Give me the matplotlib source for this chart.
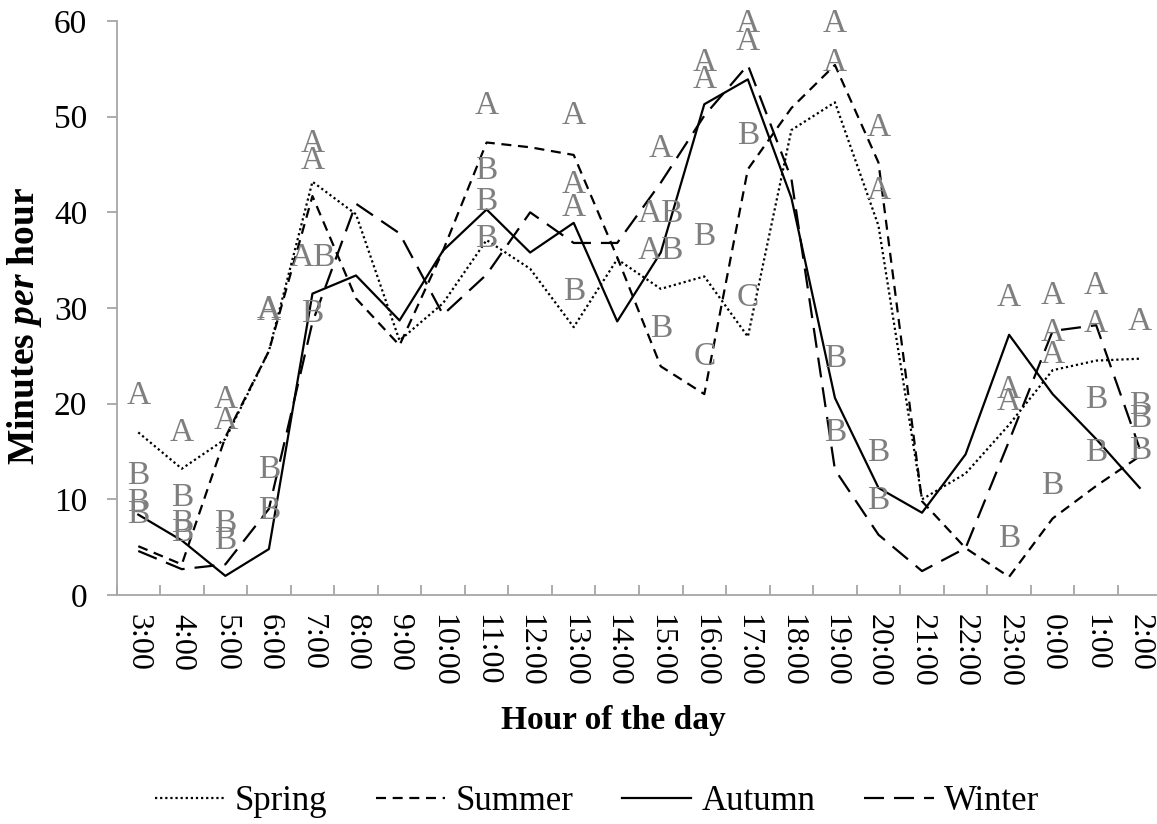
import numpy as np
import matplotlib
matplotlib.use("Agg")
import matplotlib.pyplot as plt

plt.rcParams['font.family'] = ['Liberation Serif', 'DejaVu Serif']
plt.rcParams['mathtext.fontset'] = 'custom'
plt.rcParams['mathtext.it'] = 'Liberation Serif:italic:bold'
plt.rcParams['mathtext.rm'] = 'Liberation Serif:bold'

hours = ["3:00", "4:00", "5:00", "6:00", "7:00", "8:00", "9:00", "10:00",
         "11:00", "12:00", "13:00", "14:00", "15:00", "16:00", "17:00", "18:00",
         "19:00", "20:00", "21:00", "22:00", "23:00", "0:00", "1:00", "2:00"]

spring = [17.0, 13.2, 16.3, 25.5, 43.2, 39.8, 26.6, 30.5, 37.1, 34.1, 28.0, 35.1,
          32.0, 33.3, 27.0, 48.6, 51.5, 38.6, 10.0, 12.7, 17.8, 23.5, 24.5, 24.7]
summer = [5.1, 3.2, 16.5, 25.5, 41.7, 31.0, 26.1, 36.0, 47.3, 46.8, 46.0, 35.3,
          23.9, 21.0, 44.5, 50.9, 55.4, 45.2, 9.8, 4.9, 1.9, 8.0, 11.4, 14.5]
autumn = [8.4, 5.7, 2.0, 4.8, 31.5, 33.4, 28.7, 36.0, 40.3, 35.8, 38.9, 28.6,
          35.8, 51.3, 53.9, 41.5, 20.6, 11.2, 8.6, 14.7, 27.2, 21.0, 16.3, 11.2]
winter = [4.6, 2.7, 3.2, 9.0, 28.5, 40.9, 37.8, 29.3, 33.5, 40.0, 36.8, 36.8,
          43.1, 50.1, 55.4, 43.5, 13.1, 6.3, 2.5, 4.9, 16.1, 27.6, 28.2, 15.3]

# significance letters: hour, letter, height
letter_hour = (["3:00"] * 4 + ["4:00"] * 4 + ["5:00"] * 4 + ["6:00"] * 4 + ["7:00"] * 4
               + ["11:00"] * 4 + ["13:00"] * 4 + ["15:00"] * 4 + ["16:00"] * 4
               + ["17:00"] * 4 + ["19:00"] * 4 + ["20:00"] * 4 + ["23:00"] * 4
               + ["0:00"] * 4 + ["1:00"] * 4 + ["2:00"] * 4)
letter_text = ["A", "B", "B", "B", "A", "B", "B", "B", "A", "A", "B", "B",
               "A", "A", "B", "B", "A", "A", "AB", "B", "A", "B", "B", "B",
               "A", "A", "A", "B", "A", "AB", "AB", "B", "A", "A", "B", "C",
               "A", "A", "B", "C", "A", "A", "B", "B", "A", "A", "B", "B",
               "A", "A", "A", "B", "A", "A", "A", "B", "A", "A", "B", "B",
               "A", "B", "B", "B"]
letter_y = [20.8, 12.5, 9.6, 8.4, 17.0, 10.2, 7.4, 6.5, 20.4, 18.2, 7.4, 5.7,
            29.8, 29.6, 13.1, 8.8, 47.2, 45.4, 35.3, 29.4, 51.1, 44.3, 41.1, 37.2,
            50.1, 42.9, 40.5, 31.7, 46.6, 39.8, 36.0, 27.8, 55.6, 53.9, 37.4, 24.9,
            59.7, 57.8, 48.0, 31.1, 59.7, 55.6, 24.7, 17.0, 48.8, 42.3, 14.9, 9.8,
            31.1, 21.5, 20.2, 5.9, 31.3, 27.4, 25.1, 11.4, 32.3, 28.4, 20.4, 14.9,
            28.6, 19.8, 18.4, 15.1]

W, H = 1157, 824
fig = plt.figure(figsize=(W / 100, H / 100), dpi=100)
ax = fig.add_axes([116.5 / W, 1 - 595 / H, 1045 / W, (595 - 21) / H])

x = np.arange(len(hours))
lw = 1.6
l1, = ax.plot(x, spring, color="black", lw=lw, linestyle=(0, (1, 1.3)), label="Spring")
l2, = ax.plot(x, summer, color="black", lw=lw, linestyle=(0, (4.5, 3)), label="Summer")
l3, = ax.plot(x, autumn, color="black", lw=lw, linestyle="solid", label="Autumn")
l4, = ax.plot(x, winter, color="black", lw=lw, linestyle=(0, (9, 4.5)), label="Winter")

for h, t, v in zip(letter_hour, letter_text, letter_y):
    ax.text(hours.index(h), v, t, color="#7f7f7f", fontsize=24,
            ha="center", va="center")

ax.set_xlim(-0.5, len(hours) - 0.5)
ax.set_ylim(0, 60)
ax.set_yticks(np.arange(0, 61, 10))
ax.set_xticks(x)
ax.set_xticklabels(hours, rotation=-90, fontsize=23)
ax.set_xticks(np.arange(-0.5, len(hours), 1), minor=True)
ax.tick_params(axis="x", which="major", length=0, pad=14)
ax.tick_params(axis="x", which="minor", direction="in", length=7,
               color="#a6a6a6", width=1.3)
ax.tick_params(axis="y", direction="out", length=7, color="#a6a6a6",
               width=1.3, labelsize=24, pad=14)

for s in ["top", "right"]:
    ax.spines[s].set_visible(False)
for s in ["left", "bottom"]:
    ax.spines[s].set_color("#a6a6a6")
    ax.spines[s].set_linewidth(1.3)

fig.text(25 / W, 1 - 326 / H, "Minutes $\\mathit{per}$ hour", rotation=90,
         ha="center", va="center", fontsize=27, fontweight="bold")
fig.text(613 / W, 1 - 720 / H, "Hour of the day", ha="center", va="center",
         fontsize=24, fontweight="bold")

fig.legend([l1, l2, l3, l4], ["Spring", "Summer", "Autumn", "Winter"],
           loc="center", bbox_to_anchor=(597 / W, 1 - 802 / H), ncol=4,
           frameon=False, fontsize=25, handlelength=2.0, handletextpad=0.3,
           columnspacing=1.4)

fig.savefig("out.png", dpi=100)
